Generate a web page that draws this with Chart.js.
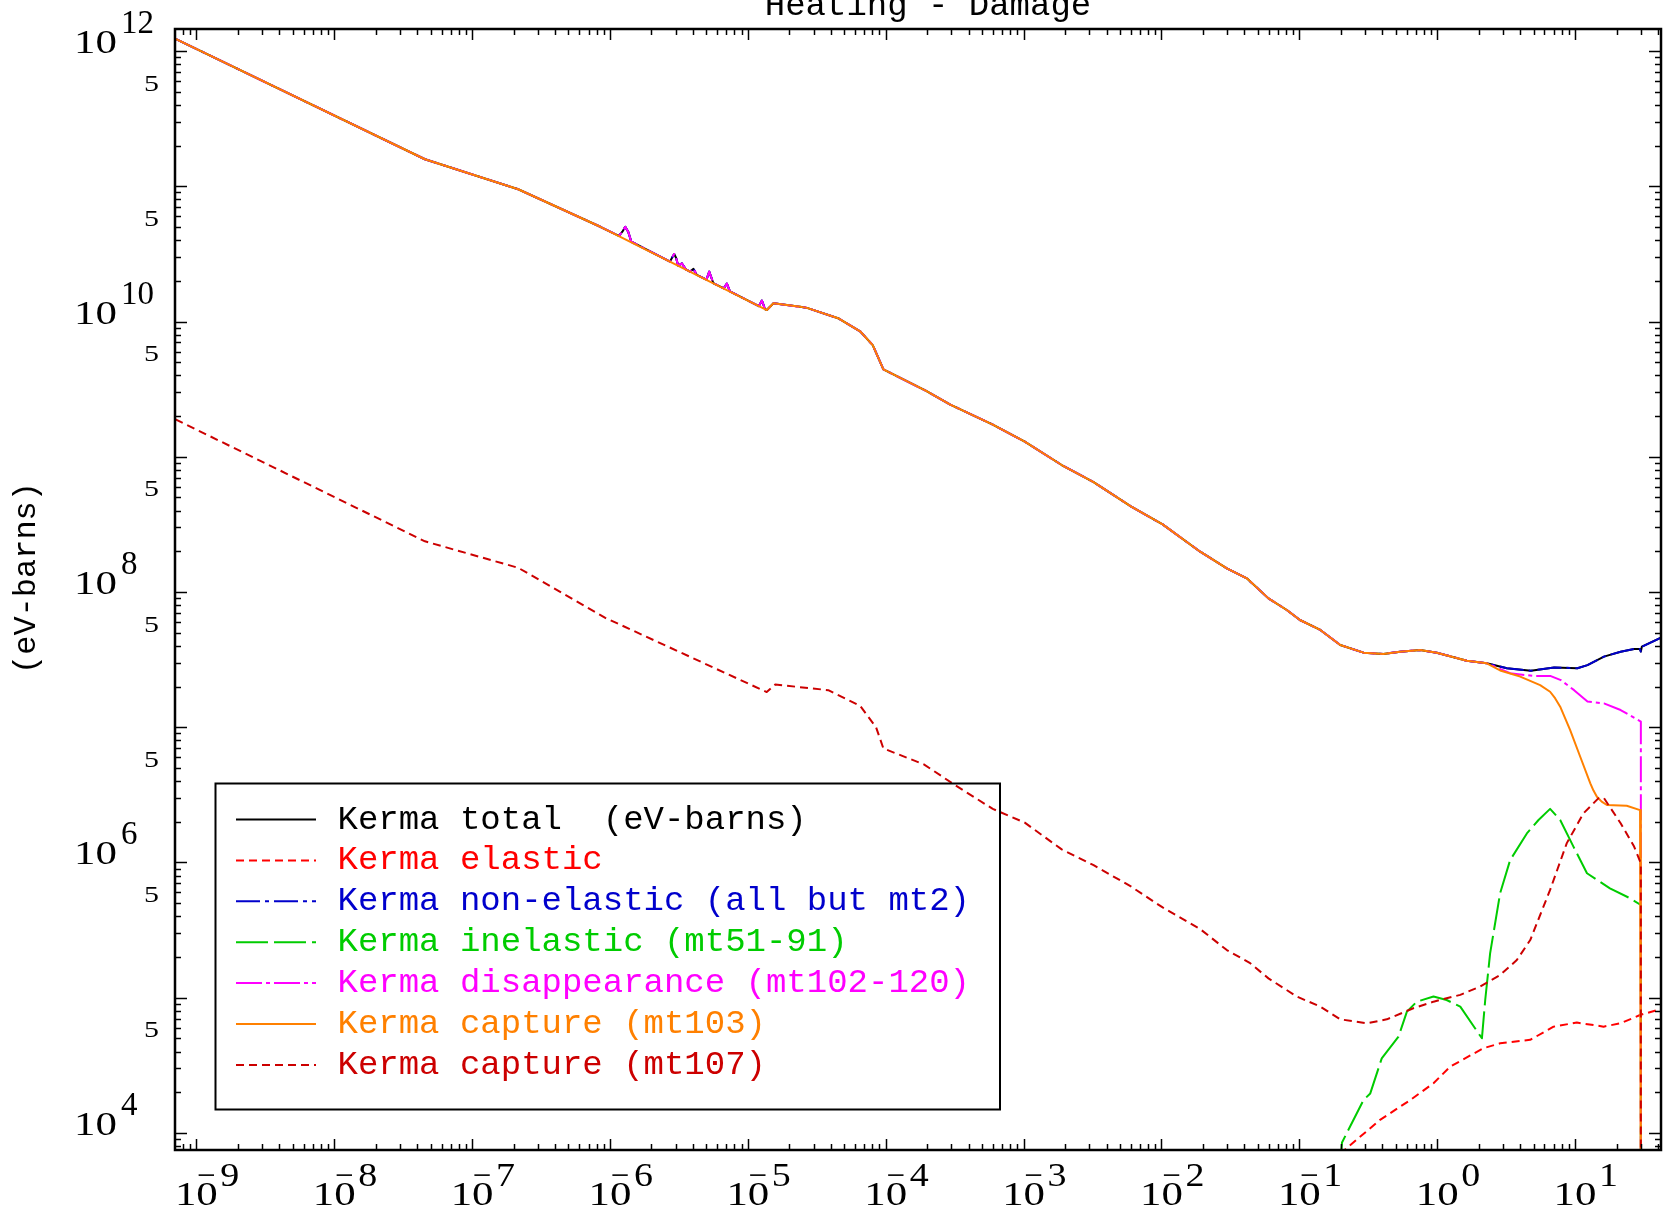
<!DOCTYPE html>
<html><head><meta charset="utf-8">
<script src="https://cdn.jsdelivr.net/npm/chart.js@4.4.1/dist/chart.umd.min.js"></script>
<style>html,body{margin:0;padding:0;background:#fff}canvas{display:block}</style>
</head><body>
<canvas id="c" width="1665" height="1215"></canvas>
<script>
// ---------- data (energy in MeV, kerma in eV-barns) ----------
const chartTitle = 'Heating - Damage';
const yTitle = '(eV-barns)';
const xLabelExps = [-9,-8,-7,-6,-5,-4,-3,-2,-1,0,1];
const yLabelExps = [4,6,8,10,12];
const yFiveExps  = [4,5,6,7,8,9,10,11];

const seriesNames = [
  'Kerma total  (eV-barns)',
  'Kerma elastic',
  'Kerma non-elastic (all but mt2)',
  'Kerma inelastic (mt51-91)',
  'Kerma disappearance (mt102-120)',
  'Kerma capture (mt103)',
  'Kerma capture (mt107)'
];
const seriesColors = ['#000000','#ff0000','#0000cc','#00cc00','#ff00ff','#ff8000','#cc0000'];

// common low-energy part of total / non-elastic / disappearance / capture(mt103)
const mainE = [7.06e-10,4.55e-8,2.16e-7,8.51e-7,1.374e-5,1.535e-5,2.40e-5,2.685e-5,4.57e-5,6.52e-5,8.05e-5,9.62e-5,
  1.95e-4,2.94e-4,5.98e-4,1.02e-3,1.89e-3,3.22e-3,6.0e-3,1.02e-2,1.91e-2,2.98e-2,4.16e-2,5.97e-2,
  8.11e-2,0.101,0.142,0.198,0.292,0.407,0.538,0.752,0.993,1.64,2.29];
const mainV = [1.23e12,1.585e11,9.51e10,5.02e10,1.216e10,1.365e10,1.285e10,1.262e10,1.052e10,8.47e9,6.70e9,4.43e9,
  3.08e9,2.43e9,1.73e9,1.294e9,8.69e8,6.50e8,4.30e8,3.16e8,1.986e8,1.496e8,1.262e8,8.97e7,
  7.36e7,6.21e7,5.24e7,4.06e7,3.56e7,3.48e7,3.62e7,3.72e7,3.56e7,3.10e7,2.97e7];

// resolved resonances (non-elastic / disappearance only)
const resE = [1.161e-6,1.230e-6,1.291e-6,1.355e-6,1.429e-6,2.723e-6,2.831e-6,2.924e-6,3.020e-6,3.126e-6,
  3.327e-6,3.548e-6,3.802e-6,4.036e-6,4.266e-6,5.012e-6,5.248e-6,5.623e-6,6.683e-6,7.047e-6,7.413e-6,
  1.202e-5,1.265e-5,1.334e-5];
const resV = [4.30e10,4.62e10,5.01e10,4.62e10,3.89e10,2.77e10,2.99e10,3.16e10,2.95e10,2.59e10,
  2.69e10,2.43e10,2.34e10,2.45e10,2.21e10,2.04e10,2.34e10,1.92e10,1.76e10,1.91e10,1.67e10,
  1.30e10,1.43e10,1.23e10];

const nonelTailE = [3.20,4.78,7.05,10.4,12.3,16.2,21.4,26.8,29.5,30.0,30.5,42.0];
const nonelTailV = [2.73e7,2.62e7,2.77e7,2.73e7,2.88e7,3.33e7,3.62e7,3.79e7,3.79e7,3.63e7,3.94e7,4.59e7];

const disTailE = [3.38,5.05,6.67,7.89,9.84,12.3,16.2,21.4,30.0,30.0];
const disTailV = [2.51e7,2.39e7,2.39e7,2.23e7,1.88e7,1.55e7,1.50e7,1.34e7,1.10e7,1.0e3];

const capTailE = [2.86,4.0,5.58,6.59,7.16,7.80,9.20,10.9,12.9,13.6,14.4,15.6,17.0,23.7,29.6,30.0,30.0];
const capTailV = [2.63e7,2.37e7,2.05e7,1.83e7,1.64e7,1.42e7,9.55e6,6.05e6,3.85e6,3.40e6,3.06e6,2.82e6,2.66e6,2.63e6,2.44e6,2.40e6,1.0e3];

const elasE = [0.197,0.385,0.637,0.94,1.24,2.16,2.86,4.73,6.98,10.3,16.1,21.4,29.6,42.0];
const elasV = [7.0e3,1.25e4,1.75e4,2.33e4,3.09e4,4.23e4,4.60e4,4.88e4,6.11e4,6.55e4,6.11e4,6.47e4,7.45e4,8.25e4];

const inelE = [0.197,0.204,0.292,0.327,0.396,0.524,0.603,0.711,0.94,1.17,1.47,2.11,2.23,2.42,2.86,3.38,
  4.47,5.43,6.59,7.80,9.73,12.2,17.9,25.1,30.0,30.0];
const inelV = [5.6e3,8.5e3,1.75e4,1.96e4,3.56e4,5.15e4,7.89e4,9.35e4,1.02e5,9.62e4,8.59e4,5.01e4,9.62e4,2.13e5,
  5.92e5,1.04e6,1.64e6,2.06e6,2.49e6,2.06e6,1.31e6,8.32e5,6.44e5,5.43e5,4.85e5,1.0e3];

const mt107E = [7.06e-10,4.55e-8,2.16e-7,9.25e-7,1.37e-5,1.58e-5,3.83e-5,6.52e-5,8.51e-5,9.62e-5,1.89e-4,3.21e-4,
  5.98e-4,1.02e-3,1.89e-3,3.22e-3,6.0e-3,1.02e-2,1.90e-2,2.98e-2,4.40e-2,5.97e-2,9.59e-2,0.142,0.198,
  0.308,0.431,0.671,0.94,1.47,2.05,2.86,3.78,4.73,6.59,8.71,11.5,14.8,16.2,21.4,26.8,30.0,30.0];
const mt107V = [1.89e9,2.37e8,1.51e8,6.44e7,1.82e7,2.07e7,1.88e7,1.44e7,1.0e7,6.97e6,5.32e6,3.71e6,
  2.49e6,1.97e6,1.25e6,9.55e5,6.65e5,4.65e5,3.23e5,2.25e5,1.80e5,1.39e5,1.02e5,8.59e4,6.92e4,
  6.47e4,6.92e4,8.36e4,9.35e4,1.05e5,1.21e5,1.47e5,1.90e5,2.67e5,6.27e5,1.39e6,2.31e6,2.99e6,2.99e6,
  1.95e6,1.31e6,9.86e5,1.0e3];

const xMin = 7.05e-10, xMax = 42.0, yMin = 7.48e3, yMax = 1.456e12;

// ---------- build ----------
function pts(E, V){ return E.map((e,i)=>({x:e, y:V[i]})); }
function merge(...parts){ return parts.flat().sort((a,b)=>a.x-b.x); }

const dashes = [[], [8,5], [24,5,4,5], [32,6], [26,4,4,4], [], [8,5]];
const seriesData = [
  merge(pts(mainE,mainV), pts(resE,resV), pts(nonelTailE,nonelTailV)),
  pts(elasE, elasV),
  merge(pts(mainE,mainV), pts(resE,resV), pts(nonelTailE,nonelTailV)),
  pts(inelE, inelV),
  merge(pts(mainE,mainV), pts(resE,resV), pts(disTailE,disTailV)),
  merge(pts(mainE,mainV), pts(capTailE,capTailV)),
  pts(mt107E, mt107V)
];

const datasets = seriesNames.map((n,i)=>({
  label: n,
  data: seriesData[i],
  showLine: true,
  borderColor: seriesColors[i],
  backgroundColor: seriesColors[i],
  borderWidth: 2,
  borderDash: dashes[i],
  pointRadius: 0,
  tension: 0,
  fill: false,
  order: 7 - i
}));

const LBL = '"Liberation Serif", "DejaVu Serif", serif';
const MONO = '"Liberation Mono", "DejaVu Sans Mono", monospace';

function sText(ctx, s, x, y, align, sx){
  ctx.save(); ctx.translate(x, y); ctx.scale(sx, 1);
  ctx.textAlign = align; ctx.fillText(s, 0, 0); ctx.restore();
}

const framePlugin = {
  id: 'frame',
  afterDatasetsDraw(chart){
    const {ctx, chartArea:a, scales:{x, y}} = chart;
    ctx.save();
    ctx.strokeStyle = '#000';
    ctx.fillStyle = '#000';
    ctx.lineWidth = 1.5;
    const seg = (x1,y1,x2,y2)=>{ ctx.beginPath(); ctx.moveTo(x1,y1); ctx.lineTo(x2,y2); ctx.stroke(); };
    for (let p = -11; p <= 2; p++) for (let m = 1; m <= 9; m++) {
      const v = m * Math.pow(10, p);
      if (v < xMin || v > xMax) continue;
      const px = Math.round(x.getPixelForValue(v)) + 0.5;
      const L = m === 1 ? 11 : 6;
      seg(px, a.bottom, px, a.bottom - L);
      seg(px, a.top, px, a.top + L);
    }
    for (let p = 3; p <= 12; p++) for (let m = 1; m <= 9; m++) {
      const v = m * Math.pow(10, p);
      if (v < yMin || v > yMax) continue;
      const py = Math.round(y.getPixelForValue(v)) + 0.5;
      const L = m === 1 ? 12 : 6;
      seg(a.left, py, a.left + L, py);
      seg(a.right, py, a.right - L, py);
    }
    ctx.lineWidth = 2.5;
    ctx.strokeRect(a.left, a.top, a.right - a.left, a.bottom - a.top);

    // x labels
    ctx.textBaseline = 'alphabetic';
    ctx.font = '33px ' + LBL;
    for (const p of xLabelExps) {
      const tx = x.getPixelForValue(Math.pow(10, p));
      sText(ctx, '10', tx, a.bottom + 55, 'center', 1.3);
      sText(ctx, String(Math.abs(p)), tx + 24, a.bottom + 36, 'left', 1.15);
      if (p < 0) sText(ctx, '\u2212', tx + 10, a.bottom + 36, 'center', 1.0);
    }
    // y labels
    for (const p of yLabelExps) {
      const ty = y.getPixelForValue(Math.pow(10, p));
      ctx.font = '33px ' + LBL;
      sText(ctx, '10', 74, ty + 2, 'left', 1.3);
      sText(ctx, String(p), 121, ty - 18, 'left', 1.0);
    }
    ctx.font = '23px ' + LBL;
    for (const p of yFiveExps) {
      const ty = y.getPixelForValue(5 * Math.pow(10, p));
      sText(ctx, '5', 159, ty - 1, 'right', 1.3);
    }
    // title
    ctx.font = '34px ' + MONO;
    ctx.textAlign = 'center';
    ctx.fillText(chartTitle, 928, 15);
    // y title
    ctx.save();
    ctx.translate(27, 578);
    ctx.rotate(-Math.PI / 2);
    ctx.font = '32px ' + MONO;
    ctx.textBaseline = 'middle';
    ctx.fillText(yTitle, 0, 0);
    ctx.restore();

    // legend
    ctx.lineWidth = 2;
    ctx.strokeRect(215.5, 783.5, 784.5, 326);
    ctx.font = '34px ' + MONO;
    ctx.textAlign = 'left';
    ctx.textBaseline = 'middle';
    chart.data.datasets.forEach((ds, i) => {
      const ry = 819.5 + i * 40.9;
      ctx.save();
      ctx.strokeStyle = ds.borderColor;
      ctx.lineWidth = 2;
      ctx.setLineDash(ds.borderDash);
      seg(236, ry, 316, ry);
      ctx.restore();
      ctx.fillStyle = ds.borderColor;
      ctx.fillText(ds.label, 337.5, ry);
    });
    ctx.restore();
  }
};

new Chart(document.getElementById('c').getContext('2d'), {
  type: 'scatter',
  data: { datasets },
  options: {
    responsive: false,
    animation: false,
    devicePixelRatio: 1,
    layout: { padding: { left: 175, top: 29, right: 4, bottom: 65 } },
    scales: {
      x: { type: 'logarithmic', min: xMin, max: xMax, display: false },
      y: { type: 'logarithmic', min: yMin, max: yMax, display: false }
    },
    plugins: { legend: { display: false }, tooltip: { enabled: false } },
    elements: { line: { borderJoinStyle: 'round' } }
  },
  plugins: [framePlugin]
});
</script>
</body></html>
